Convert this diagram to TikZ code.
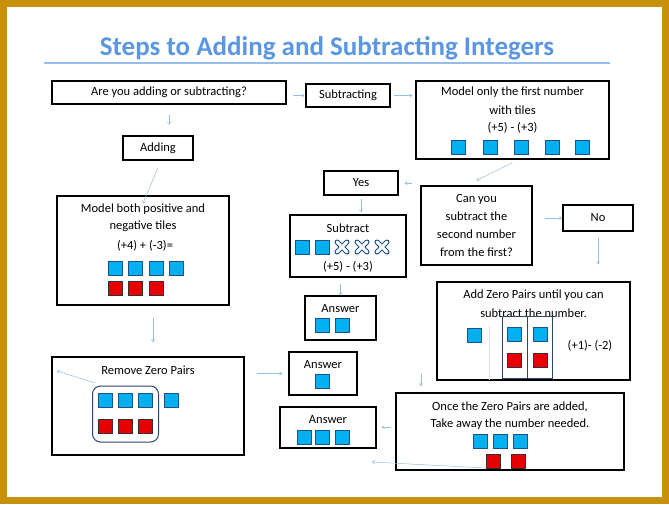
\documentclass[tikz,border=0pt]{standalone}
\usepackage{fontspec}
\setmainfont{Carlito}
\usetikzlibrary{arrows.meta}
\definecolor{gold}{RGB}{200,145,10}
\definecolor{tb}{RGB}{30,80,140}
\definecolor{tcyan}{RGB}{0,176,240}
\definecolor{tr}{RGB}{60,40,60}
\definecolor{tred}{RGB}{230,0,0}
\definecolor{conc}{RGB}{150,190,230}
\definecolor{titc}{RGB}{90,150,225}
\definecolor{ulc}{RGB}{150,190,235}
\definecolor{grpc}{RGB}{40,70,110}
\definecolor{faint}{RGB}{215,225,235}
\begin{document}
\begin{tikzpicture}[x=1pt,y=-1pt,
  box/.style={draw=black,line width=1.4pt,fill=white,inner sep=0pt},
  txt/.style={font=\fontsize{12.5}{15}\selectfont,inner sep=0pt,align=center},
  con/.style={draw=conc,line width=0.5pt,-{To[length=3pt,width=4pt]}},
  btile/.style={draw=tb,fill=tcyan,line width=0.8pt,minimum size=14pt,inner sep=0pt},
  rtile/.style={draw=tr,fill=tred,line width=0.8pt,minimum size=14pt,inner sep=0pt},
  grp/.style={draw=grpc,line width=1pt,inner sep=0pt}]
\newcommand\bt[2]{\node[btile] at (#1,#2) {};}
\newcommand\rt[2]{\node[rtile] at (#1,#2) {};}
\newcommand\xt[2]{\draw[line width=5pt,tb,line cap=round] (#1-5,#2-5)--(#1+5,#2+5) (#1-5,#2+5)--(#1+5,#2-5);
 \draw[line width=3pt,white,line cap=round] (#1-5,#2-5)--(#1+5,#2+5) (#1-5,#2+5)--(#1+5,#2-5);}
\fill[white] (0,0) rectangle (669,504);
\draw[line width=7pt,gold] (3.5,3.5) rectangle (665.5,500.5);
% title
\node[font=\fontsize{27}{30}\selectfont\bfseries,text=titc,inner sep=0pt] (title) at (327,48) {Steps to Adding and Subtracting Integers};
\draw[ulc,line width=1.5pt] (44,63)--(610,63);
% boxes
\node[box,minimum width=234pt,minimum height=23pt] (q) at (169,92.5) {};
\node[txt] at (q) {Are you adding or subtracting?};
\node[box,minimum width=84pt,minimum height=23pt] (sub) at (348,95.5) {};
\node[txt] at (sub) {Subtracting};
\node[box,minimum width=193pt,minimum height=78pt] (m1) at (512.5,120) {};
\node[txt] at (512.5,92) {Model only the first number};
\node[txt] at (512.5,110) {with tiles};
\node[txt] at (512.5,128) {(+5) - (+3)};
\bt{458}{147}\bt{490}{147}\bt{521}{147}\bt{552}{147}\bt{582}{147}
\node[box,minimum width=70pt,minimum height=24pt] (add) at (158,148) {};
\node[txt] at (add) {Adding};
\node[box,minimum width=172pt,minimum height=109pt] (mb) at (143,250.5) {};
\node[txt] at (143,209) {Model both positive and};
\node[txt] at (143,226) {negative tiles};
\node[txt] at (145,246) {(+4) + (-3)=};
\bt{115}{268}\bt{135}{268}\bt{156}{268}\bt{176}{268}
\rt{115}{288}\rt{135}{288}\rt{156}{288}
\node[box,minimum width=74pt,minimum height=24pt] (yes) at (361,183) {};
\node[txt] at (yes) {Yes};
\node[box,minimum width=111pt,minimum height=79pt] (can) at (476.5,225.5) {};
\node[txt] at (476.5,199) {Can you};
\node[txt] at (476.5,216.5) {subtract the};
\node[txt] at (476.5,234) {second number};
\node[txt] at (476.5,252) {from the first?};
\node[box,minimum width=70pt,minimum height=26pt] (no) at (598,218) {};
\node[txt] at (no) {No};
\node[box,minimum width=116pt,minimum height=62pt] (st) at (348,246) {};
\node[txt] at (348,228) {Subtract};
\bt{302}{247}\bt{322}{247}\xt{342}{247}\xt{362}{247}\xt{382}{247}
\node[txt] at (348,267) {(+5) - (+3)};
\node[box,minimum width=71pt,minimum height=44pt] (a1) at (340.5,318) {};
\node[txt] at (340.5,309) {Answer};
\bt{322}{325}\bt{342}{325}
\node[box,minimum width=193pt,minimum height=98pt] (az) at (533.5,331) {};
\node[txt] at (533.5,295) {Add Zero Pairs until you can};
\node[txt] at (533.5,313) {subtract the number.};
\draw[faint,line width=0.6pt] (489,326)--(489,380);
\bt{474}{335}
\node[grp,minimum width=25pt,minimum height=62pt] (p1) at (514.5,347) {};
\node[grp,minimum width=25pt,minimum height=62pt] (p2) at (540,347) {};
\bt{514}{334}\bt{540}{334}\rt{514}{360}\rt{540}{360}
\node[txt] at (590,346) {(+1)- (-2)};
\node[box,minimum width=192pt,minimum height=98pt] (rz) at (148,406) {};
\node[txt] at (148,370) {Remove Zero Pairs};
\node[grp,rounded corners=8pt,minimum width=66pt,minimum height=56pt] (grpb) at (125.5,414) {};
\bt{105}{400}\bt{125}{400}\bt{145}{400}\bt{171}{400}
\rt{105}{426}\rt{125}{426}\rt{145}{426}
\node[box,minimum width=68pt,minimum height=43pt] (a2) at (323,373.5) {};
\node[txt] at (323,365) {Answer};
\bt{322}{381}
\node[box,minimum width=228pt,minimum height=77pt] (once) at (510,431.5) {};
\node[txt] at (510,407) {Once the Zero Pairs are added,};
\node[txt] at (510,424) {Take away the number needed.};
\bt{480}{441}\bt{500}{441}\bt{520}{441}\rt{493}{461}\rt{518}{461}
\node[box,minimum width=96pt,minimum height=41pt] (a3) at (328,427.5) {};
\node[txt] at (328,420) {Answer};
\bt{304}{437}\bt{322}{437}\bt{342}{437}
% connectors
\coordinate (e1) at (95,383); \coordinate (e2) at (57,371);
\coordinate (e3) at (486,468); \coordinate (e4) at (372,462);
\draw[con] ([yshift=-10pt]q.south) -- ++(0,10);
\draw[con] ([xshift=6pt]q.east |- sub) -- ([xshift=-1pt]sub.west);
\draw[con] ([xshift=3pt]sub.east) -- ([xshift=-3pt]m1.west |- sub);
\draw[con] ([yshift=-7pt]add.south) -- ([yshift=-8pt]mb.north);
\draw[con] ([yshift=-3pt]m1.south) -- ([yshift=5pt]can.north);
\draw[con] ([xshift=-8pt]can.west |- yes) -- ([xshift=6pt]yes.east);
\draw[con] ([xshift=12pt]can.east |- no) -- (no.west);
\draw[con] ([yshift=-6pt]no.south) -- ([yshift=17pt]az.north -| no);
\draw[con] ([yshift=-3pt]yes.south) -- ([yshift=2pt]st.north -| yes);
\draw[con] ([yshift=-6pt]st.south -| a1) -- ([yshift=0pt]a1.north);
\draw[con] (153,318) -- (153,342);
\draw[con] ([xshift=12pt]rz.east |- a2) -- ([xshift=-6pt]a2.west);
\draw[con] (421,374) -- (421,386);
\draw[con] ([xshift=-4pt]once.west |- 0,427) -- ([xshift=5pt]a3.east |- 0,427);
\draw[con] (e1) -- (e2);
\draw[con] (e3) -- (e4);
\end{tikzpicture}
\end{document}
